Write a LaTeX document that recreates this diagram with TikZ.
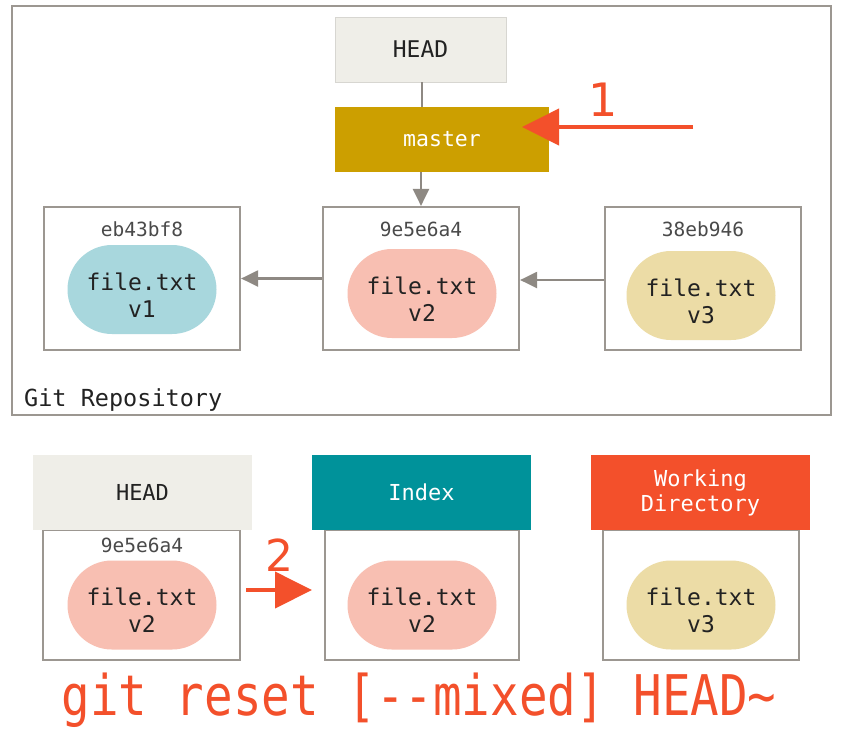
\documentclass[tikz,border=0pt]{standalone}
\usepackage{fontspec}
\setmonofont{DejaVu Sans Mono}
\setmainfont{DejaVu Sans}
\usetikzlibrary{arrows.meta,shapes.misc}
\definecolor{frame}{HTML}{9C9791}
\definecolor{arrowgray}{HTML}{8E8983}
\definecolor{headfill}{HTML}{EFEEE8}
\definecolor{masterfill}{HTML}{CC9F00}
\definecolor{bluefill}{HTML}{A8D7DD}
\definecolor{pinkfill}{HTML}{F8BFB2}
\definecolor{yellowfill}{HTML}{ECDCA6}
\definecolor{tealfill}{HTML}{00929A}
\definecolor{redfill}{HTML}{F3502B}
\definecolor{txt}{HTML}{222222}
\definecolor{hashtxt}{HTML}{4A4A4A}
\tikzset{
  boxframe/.style={draw=frame, line width=2.2pt, fill=white, inner sep=0pt},
  label1/.style={inner sep=0pt, text=txt, font=\ttfamily\fontsize{23.5}{27}\selectfont, align=center},
  headerbox/.style={inner sep=0pt, minimum width=219pt, minimum height=75pt, align=center, font=\ttfamily\fontsize{22}{25}\selectfont},
  blob/.style={rounded rectangle, inner sep=0pt, minimum width=149pt, minimum height=89pt},
  blobtext/.style={inner sep=0pt, align=center, text=txt, font=\ttfamily\fontsize{23}{27}\selectfont},
  hash/.style={inner sep=0pt, text=hashtxt, font=\ttfamily\fontsize{19.5}{22}\selectfont},
  grayarrow/.style={draw=arrowgray, line width=2.2pt, -{Triangle[length=17pt,width=16pt]}},
  redarrow/.style={draw=redfill, line width=4pt, -{Triangle[length=37pt,width=36pt]}},
  rednum/.style={inner sep=0pt, text=redfill, font=\fontsize{46}{50}\selectfont}
}
\begin{document}
\begin{tikzpicture}[x=1pt,y=-1pt]
\useasboundingbox (0,0) rectangle (854,732);
% repository frame
\node[boxframe, minimum width=819pt, minimum height=409pt] (repo) at (421.5,210.5) {};
\node[label1, anchor=west] (repolabel) at (24,400) {Git Repository};
% HEAD and master
\node[inner sep=0pt, fill=headfill, draw=headfill!90!black, line width=0.4pt, minimum width=171pt, minimum height=65pt, text=txt, font=\ttfamily\fontsize{23}{25}\selectfont] (head) at (420.5,49.5) {HEAD};
\node[inner sep=0pt, fill=masterfill, minimum width=214pt, minimum height=65pt, text=white, font=\ttfamily\fontsize{21.5}{25}\selectfont] (master) at (442,139.5) {master};
% commits
\node[boxframe, minimum width=196pt, minimum height=143pt] (c1) at (142,278.5) {};
\node[boxframe, minimum width=196pt, minimum height=143pt] (c2) at (421,278.5) {};
\node[boxframe, minimum width=196pt, minimum height=143pt] (c3) at (703,278.5) {};
\node[hash] (h1) at (142,229) {eb43bf8};
\node[hash] (h2) at (421,229) {9e5e6a4};
\node[hash] (h3) at (703,229) {38eb946};
\node[blob, fill=bluefill] (b1) at (142,289.5) {};
\node[blob, fill=pinkfill] (b2) at (422,293.5) {};
\node[blob, fill=yellowfill] (b3) at (701,295.5) {};
\node[blobtext] (t1) at ([yshift=-6pt]b1.center) {file.txt\\v1};
\node[blobtext] (t2) at ([yshift=-6pt]b2.center) {file.txt\\v2};
\node[blobtext] (t3) at ([yshift=-6pt]b3.center) {file.txt\\v3};
% connectors
\draw[draw=arrowgray, line width=2.2pt] (head.south -| 422,0) -- (422,107);
\draw[grayarrow] (c2.north |- master.south) -- (c2.north);
\draw[grayarrow] (c2.west) -- (c1.east);
\draw[grayarrow] (c3.west |- 0,280) -- (c2.east |- 0,280);
% red arrow 1
\coordinate (r1s) at (693,127);
\coordinate (r1e) at (522,127);
\draw[redarrow] (r1s) -- (r1e);
\node[rednum] (n1) at (603,100) {1};
% bottom boxes
\node[boxframe, minimum width=197pt, minimum height=130pt] (hb) at (141.5,595) {};
\node[boxframe, minimum width=194pt, minimum height=130pt] (ib) at (422,595) {};
\node[boxframe, minimum width=196pt, minimum height=130pt] (wb) at (701,595) {};
\node[headerbox, fill=headfill, text=txt] (hh) at (142.5,492.5) {HEAD};
\node[headerbox, fill=tealfill, text=white] (ih) at (421.5,492.5) {Index};
\node[headerbox, fill=redfill, text=white] (wh) at (700.5,492.5) {Working\\Directory};
\node[hash] (h4) at (142,545) {9e5e6a4};
\node[blob, fill=pinkfill] (b4) at (142,605) {};
\node[blob, fill=pinkfill] (b5) at (422,605) {};
\node[blob, fill=yellowfill] (b6) at (701,605) {};
\node[blobtext] (t4) at ([yshift=-5pt]b4.center) {file.txt\\v2};
\node[blobtext] (t5) at ([yshift=-5pt]b5.center) {file.txt\\v2};
\node[blobtext] (t6) at ([yshift=-5pt]b6.center) {file.txt\\v3};
% red arrow 2
\coordinate (r2s) at (246,590);
\coordinate (r2e) at (312,590);
\draw[redarrow] (r2s) -- (r2e);
\node[rednum, font=\fontsize{44}{46}\selectfont] (n2) at (279,555) {2};
% command
\node[inner sep=0pt, text=redfill, font=\ttfamily\fontsize{47.5}{52}\selectfont] (cmd) at (419,700) {\scalebox{1}[1.18]{git reset [-{}-mixed] HEAD\string~}};
\end{tikzpicture}
\end{document}
